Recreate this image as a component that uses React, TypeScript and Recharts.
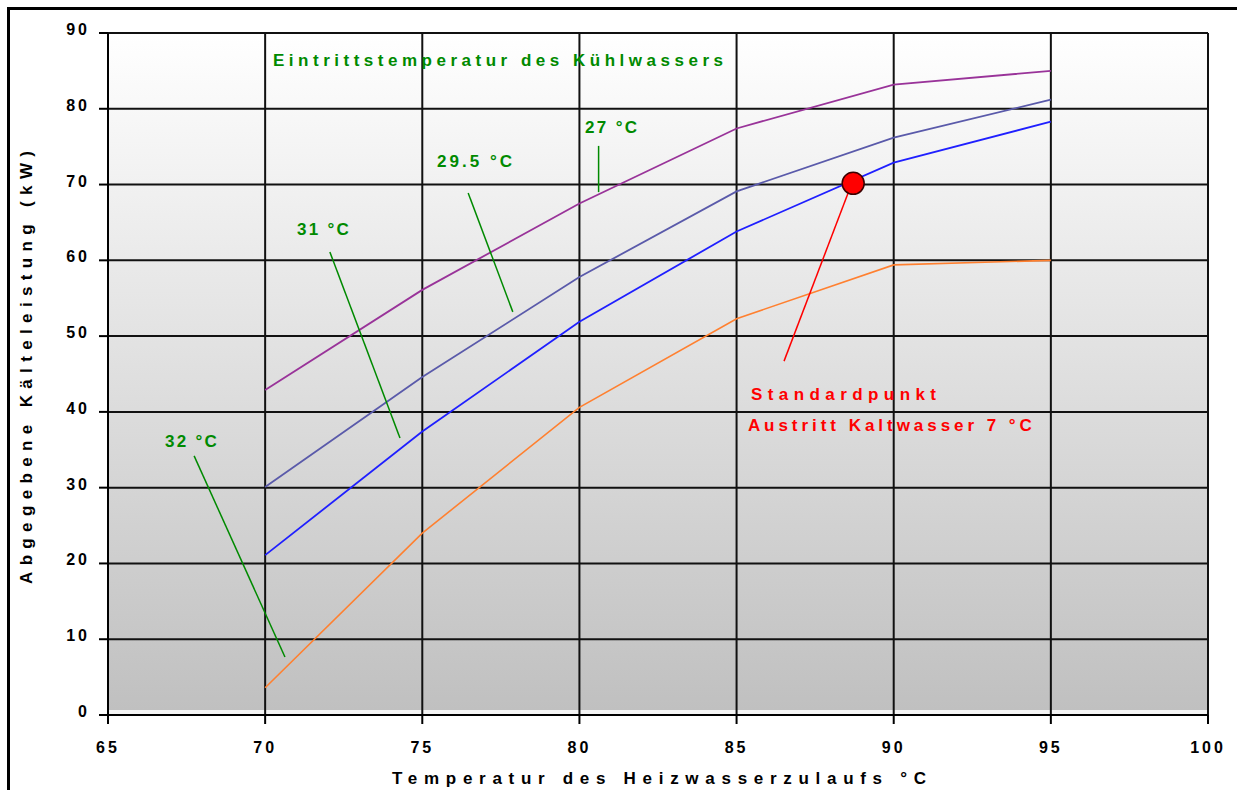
import React from 'react';
import {
  LineChart,
  Line,
  XAxis,
  YAxis,
  CartesianGrid,
  ReferenceLine,
  ReferenceDot,
} from 'recharts';

// Heizwassertemperatur (°C) and delivered cooling capacity (kW) per cooling water inlet temperature
const heatingTemps = [70, 75, 80, 85, 90, 95];
const capacity27 = [42.9, 56.1, 67.5, 77.4, 83.2, 85.0];
const capacity295 = [30.1, 44.6, 57.8, 69.1, 76.2, 81.2];
const capacity31 = [21.1, 37.4, 51.9, 63.8, 72.9, 78.3];
const capacity32 = [3.6, 24.0, 40.6, 52.3, 59.4, 60.0];

const xTicks = [65, 70, 75, 80, 85, 90, 95, 100];
const yTicks = [0, 10, 20, 30, 40, 50, 60, 70, 80, 90];

// standard point
const standardPoint = { x: 88.71, y: 70.16 };

// annotation texts, anchored in data units (left edge, vertical middle)
const noteTexts = ['Eintrittstemperatur des Kühlwassers', '27 °C', '29.5 °C', '31 °C', '32 °C', 'Standardpunkt', 'Austritt Kaltwasser 7 °C'];
const noteX = [70.25, 80.18, 75.47, 71.01, 66.81, 85.46, 85.36];
const noteY = [86.37, 77.55, 73.08, 64.13, 36.16, 42.36, 38.2];

// leader lines from labels to curves
const leaderFrom = [
  { x: 80.61, y: 75.1 },
  { x: 76.46, y: 68.9 },
  { x: 72.06, y: 61.1 },
  { x: 67.74, y: 34.2 },
  { x: 88.67, y: 70.2 },
];
const leaderTo = [
  { x: 80.61, y: 69.0 },
  { x: 77.88, y: 53.2 },
  { x: 74.29, y: 36.55 },
  { x: 70.63, y: 7.65 },
  { x: 86.51, y: 46.7 },
];

const chartData = heatingTemps.map((t, i) => ({
  t,
  c27: capacity27[i],
  c295: capacity295[i],
  c31: capacity31[i],
  c32: capacity32[i],
}));

const GREEN = '#008a00';
const RED = '#ff0000';
const noteColors = [GREEN, GREEN, GREEN, GREEN, GREEN, RED, RED];
const noteLengths = [450, 52, 75, 52, 52, 185, 284];
const leaderColors = [GREEN, GREEN, GREEN, GREEN, RED];

const FONT = '"Liberation Sans", Arial, sans-serif';

const XTick = (props: any) => {
  const { x, y, payload } = props;
  return (
    <text x={x} y={y + 27} textAnchor="middle" fontFamily={FONT} fontWeight="bold" fontSize={16} letterSpacing={3} fill="#000">
      {payload.value}
    </text>
  );
};

const YTick = (props: any) => {
  const { x, y, payload } = props;
  return (
    <text x={x - 7} y={y + 2} textAnchor="end" fontFamily={FONT} fontWeight="bold" fontSize={16} letterSpacing={3} fill="#000">
      {payload.value}
    </text>
  );
};

const makeNote = (i: number) => (props: any) => (
  <text
    x={props.cx}
    y={props.cy}
    dy="0.35em"
    fontFamily={FONT}
    fontWeight="bold"
    fontSize={17}
    fill={noteColors[i]}
    textLength={noteLengths[i]}
    lengthAdjust="spacing"
  >
    {noteTexts[i]}
  </text>
);

export default function App() {
  return (
    <div style={{ position: 'relative', width: 1237, height: 790, overflow: 'hidden', background: '#fff' }}>
      <style>{`body{margin:0;overflow:hidden}`}</style>
      <svg width={0} height={0} style={{ position: 'absolute' }}>
        <defs>
          <linearGradient id="plotBg" x1="0" y1="0" x2="0" y2="1">
            <stop offset="0" stopColor="#ffffff" />
            <stop offset="0.992" stopColor="#c0c0c0" />
            <stop offset="0.992" stopColor="#f4f4f4" />
            <stop offset="1" stopColor="#f4f4f4" />
          </linearGradient>
        </defs>
      </svg>
      <div
        style={{
          position: 'absolute',
          left: 7,
          top: 7,
          width: 1300,
          height: 900,
          borderTop: '3px solid #000',
          borderLeft: '3px solid #000',
        }}
      />
      <div style={{ position: 'absolute', left: 10, top: 10 }}>
        <LineChart width={1227} height={780} data={chartData} margin={{ top: 23, right: 29, left: 0, bottom: 0 }}>
          <CartesianGrid stroke="#111" strokeWidth={2} fill="url(#plotBg)" fillOpacity={1} />
          <XAxis
            dataKey="t"
            type="number"
            domain={[65, 100]}
            ticks={xTicks}
            interval={0}
            height={75}
            tickSize={9}
            axisLine={{ stroke: '#000', strokeWidth: 2 }}
            tickLine={{ stroke: '#000', strokeWidth: 2 }}
            tick={<XTick />}
          />
          <YAxis
            type="number"
            domain={[0, 90]}
            ticks={yTicks}
            interval={0}
            width={98}
            tickSize={9}
            axisLine={{ stroke: '#000', strokeWidth: 2 }}
            tickLine={{ stroke: '#000', strokeWidth: 2 }}
            tick={<YTick />}
          />
          <Line dataKey="c27" stroke="#993399" strokeWidth={1.8} dot={false} isAnimationActive={false} />
          <Line dataKey="c295" stroke="#5a5aaa" strokeWidth={1.8} dot={false} isAnimationActive={false} />
          <Line dataKey="c31" stroke="#1f1fff" strokeWidth={1.8} dot={false} isAnimationActive={false} />
          <Line dataKey="c32" stroke="#ff8030" strokeWidth={1.6} dot={false} isAnimationActive={false} />
          {leaderFrom.map((p, i) => (
            <ReferenceLine
              key={`leader-${i}`}
              segment={[p, leaderTo[i]]}
              stroke={leaderColors[i]}
              strokeWidth={1.5}
              ifOverflow="visible"
            />
          ))}
          <ReferenceDot
            x={standardPoint.x}
            y={standardPoint.y}
            r={11}
            fill="#ff0000"
            stroke="#3a0000"
            strokeWidth={1.5}
            ifOverflow="visible"
          />
          {noteTexts.map((_, i) => (
            <ReferenceDot
              key={`note-${i}`}
              x={noteX[i]}
              y={noteY[i]}
              r={1}
              ifOverflow="visible"
              shape={makeNote(i)}
            />
          ))}
          <text
            x={22}
            y={357.5}
            transform="rotate(-90 22 357.5)"
            textAnchor="middle"
            fontFamily={FONT}
            fontWeight="bold"
            fontSize={17}
            fill="#000"
            textLength={433}
            lengthAdjust="spacing"
          >
            Abgegebene Kälteleistung (kW)
          </text>
          <text
            x={649}
            y={774}
            textAnchor="middle"
            fontFamily={FONT}
            fontWeight="bold"
            fontSize={17}
            fill="#000"
            textLength={534}
            lengthAdjust="spacing"
          >
            Temperatur des Heizwasserzulaufs °C
          </text>
        </LineChart>
      </div>
    </div>
  );
}
